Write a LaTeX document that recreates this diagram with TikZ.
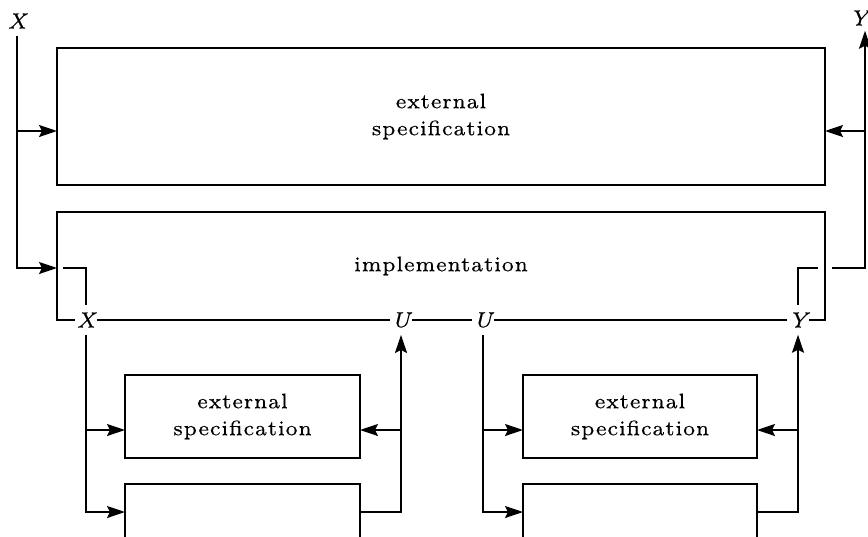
\documentclass[tikz,border=0pt]{standalone}
\usepackage{fontspec}
\usetikzlibrary{arrows.meta}
% small optical sizes, slightly emboldened, for the heavier letterforms
\newfontfamily\capfont{lmroman7-regular.otf}[LetterSpace=4,FakeBold=0.35]
\newfontfamily\labfont{lmroman7-italic.otf}[FakeBold=0.5]
\begin{document}
\begin{tikzpicture}[x=1pt,y=-1pt,
  wire/.style={line width=2pt},
  arr/.style={wire,-{Stealth[length=18pt,width=12pt,inset=3pt]}},
  box/.style={draw,line width=2pt,inner sep=0pt,outer sep=0pt,align=center,
    font=\capfont\fontsize{21}{27}\selectfont},
  lab/.style={fill=white,inner xsep=1.5pt,inner ysep=7pt,
    font=\labfont\fontsize{22}{26}\selectfont}]
\useasboundingbox (0,0) rectangle (868,536);

% top level: specification and implementation
\node[box,minimum width=768pt,minimum height=137pt] (spec) at (441,116.5) {external\\specification};
\node[box,minimum width=768pt,minimum height=108pt] (impl) at (441,266) {implementation};

% labels on the bottom edge of the implementation
\node[lab] (xi) at (86,320) {X};
\node[lab] (u1) at (401,320) {U};
\node[lab] (u2) at (483,320) {U};
\node[lab] (yi) at (798,320) {Y};

% outer input and output
\node[lab,inner ysep=7pt] (xt) at (17,21) {X};
\node[lab,inner ysep=5pt] (yt) at (859,18) {Y};

\coordinate (lb) at (17,131);
\coordinate (lc) at (17,268);
\coordinate (rb) at (865,131);
\coordinate (rc) at (865,268);
\coordinate (ro) at (832,268);
\coordinate (li) at (63,268);
\coordinate (ri) at (818,268);

\draw[arr] (xt) -- (lc) -- (lc -| impl.west);
\draw[arr] (lb) -- (lb -| spec.west);
\draw[arr] (ro) -- (rc) -- (rc |- yt.south);
\draw[arr] (rb) -- (rb -| spec.east);
\draw[wire] (li) -| (xi);
\draw[wire] (ri) -| (yi);

% left component
\node[box,minimum width=235pt,minimum height=83pt] (s1) at (242.5,416.5) {external\\specification};
\node[box,minimum width=235pt,minimum height=100pt] (s2) at (242.5,534) {};
\coordinate (l1) at (86,430);
\coordinate (l2) at (86,512);
\coordinate (m1) at (401,430);
\coordinate (m2) at (401,512);
\draw[arr] (xi) -- (l2) -- (l2 -| s2.west);
\draw[arr] (l1) -- (l1 -| s1.west);
\draw[arr] (m2 -| s2.east) -- (m2) -- (u1);
\draw[arr] (m1) -- (m1 -| s1.east);

% right component
\node[box,minimum width=234pt,minimum height=83pt] (s3) at (640,416.5) {external\\specification};
\node[box,minimum width=234pt,minimum height=100pt] (s4) at (640,534) {};
\coordinate (n1) at (483,430);
\coordinate (n2) at (483,512);
\coordinate (p1) at (798,430);
\coordinate (p2) at (798,512);
\draw[arr] (u2) -- (n2) -- (n2 -| s4.west);
\draw[arr] (n1) -- (n1 -| s3.west);
\draw[arr] (p2 -| s4.east) -- (p2) -- (yi);
\draw[arr] (p1) -- (p1 -| s3.east);
\end{tikzpicture}
\end{document}
